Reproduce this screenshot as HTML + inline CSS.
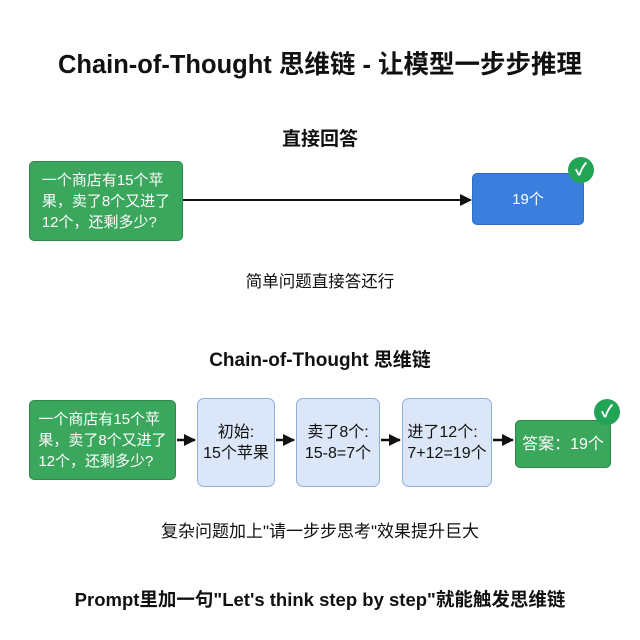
<!DOCTYPE html>
<html><head><meta charset="utf-8"><style>
body{margin:0;width:640px;height:640px;background:#fff;position:relative;font-family:"Liberation Sans","Noto Sans CJK SC",sans-serif;overflow:hidden}
.t{position:absolute;left:0;width:640px;text-align:center;color:#111}
.b{position:absolute;box-sizing:border-box;border-radius:5px;display:flex;align-items:center;justify-content:center;font-size:15px;line-height:21px}
.g{background:#3aa75d;border:1px solid #2e8a4b;color:#fff}
.lb{background:#dbe7f8;border:1px solid #8fb0dc;color:#111;border-radius:7px}
.ck{position:absolute;width:26px;height:26px;border-radius:50%;background:#22a455;color:#fff;font-size:17px;font-weight:bold;text-align:center;line-height:26px}
</style></head><body>
<div class="t" style="top:44px;font-size:25.5px;font-weight:bold">Chain-of-Thought 思维链 - 让模型一步步推理</div>
<div class="t" style="top:124px;font-size:19px;font-weight:bold">直接回答</div>
<div class="b g" style="left:29px;top:161px;width:154px;height:80px;padding:0 4px;text-align:left;white-space:nowrap">一个商店有15个苹<br>果，卖了8个又进了<br>12个，还剩多少?</div>
<div class="b" style="left:472px;top:173px;width:112px;height:52px;background:#3b7fde;border:1px solid #2f6cc4;color:#fff">19个</div>
<div class="ck" style="left:568px;top:157px">✓</div>
<div class="t" style="top:268px;font-size:16.5px">简单问题直接答还行</div>
<div class="t" style="top:345px;font-size:19px;font-weight:bold">Chain-of-Thought 思维链</div>
<div class="b g" style="left:29px;top:400px;width:147px;height:80px;padding:0 2px;text-align:left;font-size:15px;white-space:nowrap">一个商店有15个苹<br>果，卖了8个又进了<br>12个，还剩多少?</div>
<div class="b lb" style="left:197px;top:398px;width:78px;height:89px;text-align:center;font-size:16px">初始:<br>15个苹果</div>
<div class="b lb" style="left:296px;top:398px;width:84px;height:89px;text-align:center;font-size:16px">卖了8个:<br>15-8=7个</div>
<div class="b lb" style="left:402px;top:398px;width:90px;height:89px;text-align:left;font-size:16px">进了12个:<br>7+12=19个</div>
<div class="b g" style="left:515px;top:420px;width:96px;height:48px;font-size:16px">答案：19个</div>
<div class="ck" style="left:594px;top:399px">✓</div>
<svg style="position:absolute;left:0;top:0" width="640" height="640">
<defs><marker id="a2" markerWidth="12" markerHeight="12" refX="11" refY="6" orient="auto" markerUnits="userSpaceOnUse"><path d="M0,0 L12,6 L0,12 z" fill="#111"/></marker></defs>
<line x1="183" y1="200" x2="471" y2="200" stroke="#111" stroke-width="2" marker-end="url(#a2)"/>
<line x1="177" y1="440" x2="195" y2="440" stroke="#111" stroke-width="2.5" marker-end="url(#a2)"/>
<line x1="276" y1="440" x2="294" y2="440" stroke="#111" stroke-width="2.5" marker-end="url(#a2)"/>
<line x1="381" y1="440" x2="400" y2="440" stroke="#111" stroke-width="2.5" marker-end="url(#a2)"/>
<line x1="493" y1="440" x2="513" y2="440" stroke="#111" stroke-width="2.5" marker-end="url(#a2)"/>
</svg>
<div class="t" style="top:517px;font-size:17px">复杂问题加上"请一步步思考"效果提升巨大</div>
<div class="t" style="top:586px;font-size:18.5px;font-weight:bold">Prompt里加一句"Let's think step by step"就能触发思维链</div>
</body></html>
